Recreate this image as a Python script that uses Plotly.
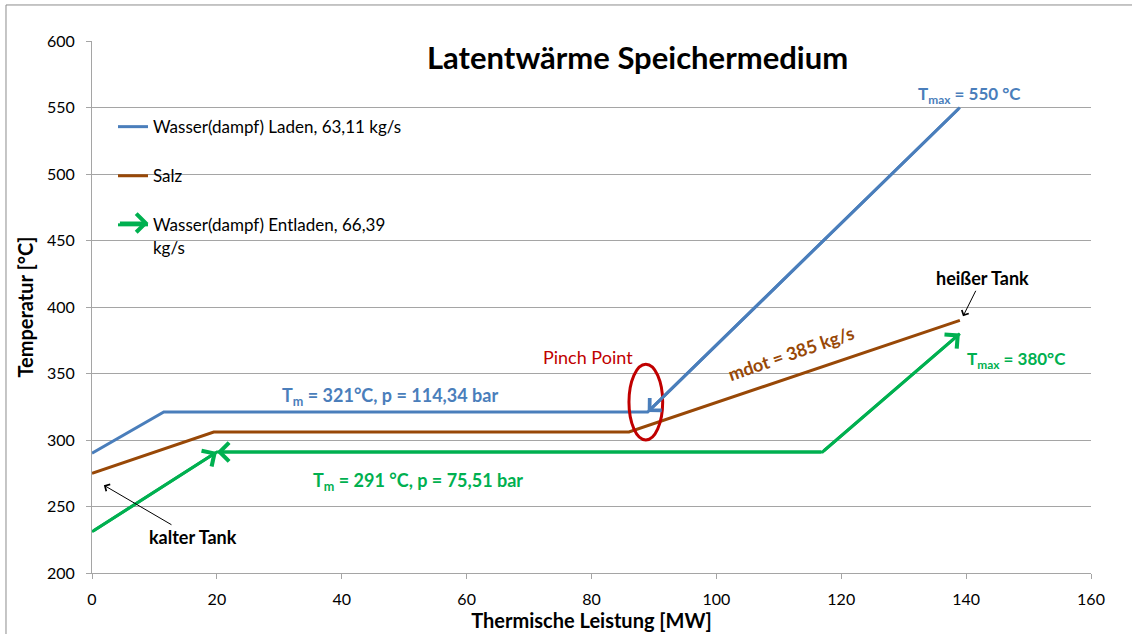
import plotly.graph_objects as go

FONT = "Lato"

# Wasser(dampf) Laden
blue_x = [0, 11.5, 89, 139]
blue_y = [290, 321, 321, 550]
# Salz
salt_x = [0, 19.5, 86, 139]
salt_y = [275, 306, 306, 390]
# Wasser(dampf) Entladen
green_x = [0, 20, 117, 139]
green_y = [231, 291, 291, 380]

x_ticks = [0, 20, 40, 60, 80, 100, 120, 140, 160]
y_ticks = [200, 250, 300, 350, 400, 450, 500, 550, 600]

BLUE = "#4A7EBB"
BROWN = "#984807"
GREEN = "#00B050"
RED = "#C00000"
GRID = "#A5A5A5"

fig = go.Figure()
fig.add_trace(go.Scatter(x=blue_x, y=blue_y, mode="lines", name="Wasser(dampf) Laden, 63,11 kg/s",
                         line=dict(color=BLUE, width=3), legendgroup="a"))
fig.add_trace(go.Scatter(x=salt_x, y=salt_y, mode="lines", name="Salz",
                         line=dict(color=BROWN, width=3), legendgroup="b"))
fig.add_trace(go.Scatter(x=green_x, y=green_y, mode="lines",
                         name="Wasser(dampf) Entladen, 66,39<br>kg/s",
                         line=dict(color=GREEN, width=3), legendgroup="c"))


def head(xs, ys, tip, tail, color, size=1.2):
    # open arrowhead at point `tip`, pointing away from point `tail`
    return dict(x=xs[tip], y=ys[tip], ax=xs[tail], ay=ys[tail],
                xref="x", yref="y", axref="x", ayref="y", text="",
                showarrow=True, arrowhead=4, arrowsize=size, arrowwidth=3,
                arrowcolor=color, standoff=0)


def label(text, x, y, color, size=18, bold=True, angle=0):
    return dict(x=x, y=y, xref="x", yref="y", text=text, showarrow=False,
                textangle=angle,
                font=dict(family=FONT, size=size, color=color,
                          weight="bold" if bold else "normal"))


def pointer(text, x, y, dx, dy):
    # black callout with thin open arrow
    return dict(x=x, y=y, xref="x", yref="y", ax=dx, ay=dy, axref="pixel", ayref="pixel",
                text=text, showarrow=True, arrowhead=4, arrowsize=1.5, arrowwidth=1,
                arrowcolor="black",
                font=dict(family=FONT, size=18, color="black", weight="bold"))


annotations = [
    head(blue_x, blue_y, 2, 3, BLUE, 1.1),
    head(green_x, green_y, 1, 0, GREEN),
    head(green_x, green_y, 1, 2, GREEN),
    head(green_x, green_y, 3, 2, GREEN),
    label("T<sub>m</sub> = 321°C, p = 114,34 bar", 47.7, 332.5, BLUE),
    label("T<sub>m</sub> = 291 °C, p = 75,51 bar", 52.2, 269, GREEN),
    label("T<sub>max</sub> = 550 °C", 140.6, 559.5, BLUE, size=17),
    label("T<sub>max</sub> = 380°C", 148, 360, GREEN, size=17),
    label("Pinch Point", 79.4, 362.5, RED, bold=False),
    label("mdot = 385 kg/s", 112, 365.5, BROWN, angle=-19),
    pointer("heißer Tank", 139.5, 393, 19, -38),
    pointer("kalter Tank", 1.9, 266, 89, 52),
    # arrow tip on the Entladen legend symbol
    dict(x=0.0565, y=0.658, xref="paper", yref="paper", ax=-30, ay=0,
         axref="pixel", ayref="pixel", text="", showarrow=True, arrowhead=4,
         arrowsize=1.2, arrowwidth=3, arrowcolor=GREEN, standoff=0),
    dict(x=0.5465, y=0.97, xref="paper", yref="paper", xanchor="center", yanchor="middle",
         text="Latentwärme Speichermedium", showarrow=False, bgcolor="white", borderpad=4,
         font=dict(family=FONT, size=31, color="black", weight="bold")),
]

shapes = [
    # outer chart frame
    dict(type="rect", xref="paper", yref="paper", x0=-0.0861, x1=1.2, y0=-0.3, y1=1.0677,
         line=dict(color="#8C8C8C", width=1), layer="below"),
    # pinch point marker
    dict(type="circle", xref="x", yref="y", x0=86.0, x1=91.4, y0=300, y1=357,
         line=dict(color=RED, width=3)),
]

fig.update_layout(
    width=1132, height=634,
    margin=dict(l=92, r=41, t=41, b=61),
    paper_bgcolor="white", plot_bgcolor="white",
    font=dict(family=FONT, size=16, color="black"),
    showlegend=True,
    legend=dict(x=0.021, y=0.872, xanchor="left", yanchor="top", valign="top",
                bgcolor="rgba(0,0,0,0)", tracegroupgap=24,
                font=dict(family=FONT, size=17, color="black")),
    annotations=annotations,
    shapes=shapes,
    xaxis=dict(range=[0, 160], tickvals=x_ticks, showgrid=False, zeroline=False,
               showline=True, linecolor=GRID, linewidth=1, ticks="outside", ticklen=5,
               tickcolor=GRID, tickfont=dict(size=16), ticklabelstandoff=7,
               automargin=False,
               title=dict(text="Thermische Leistung [MW]", standoff=6,
                          font=dict(size=20, weight="bold"))),
    yaxis=dict(range=[200, 600], tickvals=y_ticks, showgrid=True, gridcolor=GRID, gridwidth=1,
               zeroline=False, showline=True, linecolor=GRID, linewidth=1, ticks="outside",
               ticklen=5, tickcolor=GRID, tickfont=dict(size=16), ticklabelstandoff=8,
               automargin=False,
               title=dict(text="Temperatur [°C]", standoff=7,
                          font=dict(size=20, weight="bold"))),
)

fig.write_html("out.html")
